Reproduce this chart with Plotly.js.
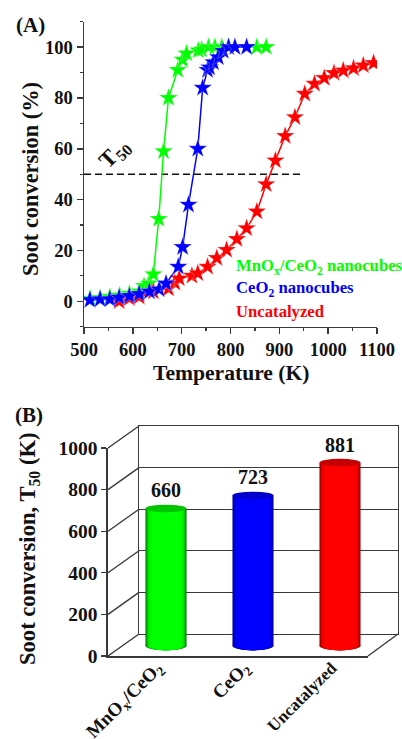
<!DOCTYPE html>
<html><head><meta charset="utf-8">
<script src="https://cdn.plot.ly/plotly-3.0.1.min.js"></script>
<style>html,body{margin:0;padding:0;background:#fff}</style></head>
<body><div id="chart" style="width:402px;height:739px"></div>
<script>
// --- Panel A data
const greenT=[513,533,553,573,593,613,623,633,642,653,663,673,692,702,710,734,741,755,768,782,796,854,873];
const greenV=[1,1.3,1.8,2.3,3,3.8,6,7,10.6,32.4,59,80,91,95,97.5,98.7,99,100,100,100,100,100,100];
const blueT=[512,533,553,572,593,613,634,654,668,693,702,714,733,743,753,757,765,775,785,796,809,833];
const blueV=[0.5,0.8,0.8,1.5,2.1,2.9,3.8,4.7,7,13.6,21.3,38,60,84,91,92,94,96,98.5,100,100,100];
const redT=[572,593,613,642,673,686,695,721,733,753,772,792,813,833,854,873,892,912,932,952,972,992,1012,1031,1052,1072,1093];
const redV=[0,1.2,1.8,3.8,5,7.3,9,10,11,13.6,17,20.2,24.5,28.7,35.3,46,55.4,65,72.4,81.6,85.6,87.8,89.8,90.8,91.7,92.8,93.7];
const t50T=[500,950];
const t50V=[50,50];
const xTicksA=[500,600,700,800,900,1000,1100];
const yTicksA=[0,20,40,60,80,100];
// --- Panel B data
const catalysts=['MnO<sub>x</sub>/CeO<sub>2</sub>','CeO<sub>2</sub>','<span style="font-size:17px">Uncatalyzed</span>'];
const t50Values=[660,723,881];
const yTicksB=[0,200,400,600,800,1000];
// --- Styling
const FONT='"Liberation Serif","Times New Roman",serif';
const W=402,H=739,AX='#3a3a3a';
const dx=([a,b])=>[a/W,b/W];
const dy=([top,bottom])=>[1-bottom/H,1-top/H];
const barPalette=[
  {edge:[0,70,0],mid:[0,255,0],cap:'#00c400'},
  {edge:[0,0,110],mid:[0,0,255],cap:'#0000cc'},
  {edge:[110,0,0],mid:[255,0,0],cap:'#c40000'}];
const bands=[1,0.96,0.92,0.87,0.8,0.7];
const bandMix=[0.25,0.5,0.72,0.88,0.96,1];
const mix=(p,m)=>`rgb(${p.edge.map((e,i)=>Math.round(e+(p.mid[i]-e)*m)).join(',')})`;
const bold=(s)=>'<b>'+s+'</b>';

function series(x,y,color){return {x,y,type:'scatter',mode:'lines+markers',
  line:{color,width:1.5},marker:{symbol:'star',size:14,color,line:{color:'rgba(255,255,255,0.55)',width:0.5}},hoverinfo:'skip',showlegend:false};}

const traces=[
  {x:t50T,y:t50V,type:'scatter',mode:'lines',line:{color:'#111',width:1.5,dash:'7px,4px'},showlegend:false,hoverinfo:'skip'},
  series(greenT,greenV,'#00ff00'),
  series(redT,redV,'#ff0000'),
  series(blueT,blueV,'#0000ff'),
  {x:[],y:[],xaxis:'x3',yaxis:'y3',type:'scatter',showlegend:false},
  {x:[],y:[],xaxis:'x2',yaxis:'y2',type:'scatter',showlegend:false}
];
bands.forEach((b,k)=>{
  traces.push({type:'bar',xaxis:'x4',yaxis:'y4',x:catalysts,y:t50Values,width:0.472*b,
    marker:{color:barPalette.map(p=>mix(p,bandMix[k])),line:{width:0}},showlegend:false,hoverinfo:'skip'});
});
traces.push({type:'scatter',mode:'text',xaxis:'x4',yaxis:'y4',x:catalysts,y:t50Values.map(v=>v+30),
  text:t50Values.map(String),textposition:'top center',textfont:{family:FONT,size:20,color:'#111',weight:'bold'},showlegend:false,hoverinfo:'skip'});

// --- Shapes
const shapes=[];
t50Values.forEach((v,i)=>{
  const half=0.236;
  bands.forEach((b,k)=>{
    shapes.push({type:'circle',layer:'below',xref:'x4',yref:'y4',x0:i-half*b,x1:i+half*b,y0:-20,y1:20,
      fillcolor:mix(barPalette[i],bandMix[k]),line:{width:0}});
  });
  shapes.push({type:'circle',layer:'above',xref:'x4',yref:'y4',x0:i-half,x1:i+half,y0:v-17,y1:v+19,
    fillcolor:barPalette[i].cap,line:{width:0}});
});
const toPx=(v)=>656-v*0.208;
yTicksB.forEach(v=>{
  shapes.push({type:'line',xref:'paper',yref:'paper',x0:108/W,x1:139/W,y0:1-toPx(v)/H,y1:1-(toPx(v)-22)/H,line:{color:AX,width:1.4}});
});
shapes.push({type:'line',xref:'paper',yref:'paper',x0:368/W,x1:398/W,y0:1-656/H,y1:1-634/H,line:{color:AX,width:1.4}});

const annos=[];
function add(text,x,y,size,color,extra){annos.push(Object.assign({text:bold(text),x:x/W,y:1-y/H,xref:'paper',yref:'paper',showarrow:false,
  xanchor:'left',yanchor:'middle',font:{family:FONT,size,color}},extra||{}));}
add('(A)',14,25,21,'#111');
add('(B)',13,415,21,'#111');
add('MnO<sub>x</sub>/CeO<sub>2</sub> nanocubes',233.5,266.5,16.7,'#00ff00');
add('CeO<sub>2</sub> nanocubes',233.5,288.5,16.7,'#0000ff');
add('Uncatalyzed',233.5,311.5,16.7,'#ff0000');
add('T<sub>50</sub>',115,154,23,'#111',{textangle:-45,xanchor:'center'});
add('Soot conversion (%)',30,179,22.4,'#111',{textangle:-90,xanchor:'center'});
add('Temperature (K)',231,373,21.6,'#111',{xanchor:'center'});
add('Soot conversion, T<sub>50</sub> (K)',29,549,22.6,'#111',{textangle:-90,xanchor:'center'});

const tfA={family:FONT,size:18.5,color:'#111',weight:'bold'};
const tfB={family:FONT,size:19.5,color:'#111',weight:'bold'};
const layout={
  width:W,height:H,margin:{l:0,r:0,t:0,b:0},paper_bgcolor:'#fff',plot_bgcolor:'rgba(0,0,0,0)',
  barmode:'overlay',showlegend:false,font:{family:FONT},
  shapes,annotations:annos,
  xaxis:{domain:dx([84,377]),range:[500,1100],tickvals:xTicksA,ticks:'outside',ticklen:6,tickwidth:1.5,tickcolor:AX,
    showline:true,linecolor:AX,linewidth:1.5,showgrid:false,zeroline:false,tickfont:tfA,anchor:'y',
    minor:{dtick:50,ticks:'outside',ticklen:3,tickwidth:1.2,tickcolor:AX}},
  yaxis:{domain:dy([21.7,326.7]),range:[-10,110],tickvals:yTicksA,ticks:'outside',ticklen:6,tickwidth:1.5,tickcolor:AX,
    showline:true,linecolor:AX,linewidth:1.5,showgrid:false,zeroline:false,tickfont:tfA,anchor:'x',
    minor:{dtick:10,ticks:'outside',ticklen:3,tickwidth:1.2,tickcolor:AX}},
  xaxis2:{domain:dx([108,368]),range:[0,1],anchor:'y2',showticklabels:false,ticks:'',showline:true,linecolor:AX,linewidth:1.6,showgrid:false,zeroline:false},
  yaxis2:{domain:dy([448,656]),range:[0,1000],anchor:'x2',tickvals:yTicksB,ticks:'outside',ticklen:5,tickwidth:1.4,tickcolor:AX,
    showline:true,linecolor:AX,linewidth:1.6,showgrid:false,zeroline:false,tickfont:tfB},
  xaxis3:{domain:dx([139,398]),range:[0,1],anchor:'y3',showticklabels:false,ticks:'',showline:true,mirror:true,linecolor:AX,linewidth:1.4,showgrid:false,zeroline:false},
  yaxis3:{domain:dy([426,634]),range:[0,1000],anchor:'x3',showticklabels:false,ticks:'',showline:true,mirror:true,linecolor:AX,linewidth:1.4,
    tickvals:yTicksB,showgrid:true,gridcolor:AX,gridwidth:1.3,zeroline:false},
  xaxis4:{domain:dx([122.5,383.5]),type:'category',categoryarray:catalysts,categoryorder:'array',range:[-0.5,2.5],anchor:'free',position:1-656/H,
    side:'bottom',showline:false,ticks:'',tickangle:-45,ticklabelshift:-9,ticklabelstandoff:-4,tickfont:{family:FONT,size:19,color:'#111',weight:'bold'},showgrid:false,zeroline:false},
  yaxis4:{domain:dy([438,656]),range:[-48,1000],anchor:'x4',visible:false,showgrid:false,zeroline:false}
};
Plotly.newPlot('chart',traces,layout,{displayModeBar:false,staticPlot:true});
</script></body></html>
